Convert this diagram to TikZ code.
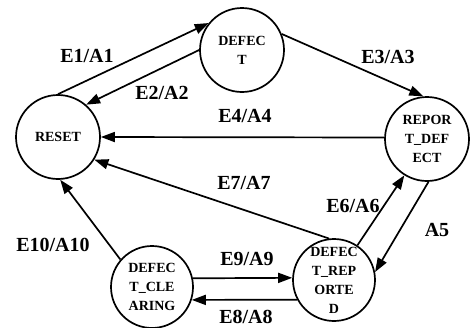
\documentclass[tikz,border=0pt]{standalone}
\usepackage{fontspec}
\setmainfont{Liberation Serif}
\usetikzlibrary{arrows.meta}
\begin{document}
\begin{tikzpicture}[x=1pt,y=-1pt,
  state/.style={circle,draw,line width=1.7pt,minimum size=84pt,inner sep=0pt,
    font=\bfseries\fontsize{14}{19}\selectfont,align=center},
  edge/.style={line width=1.7pt,-{Triangle[length=14pt,width=10pt]}},
  lab/.style={font=\bfseries\fontsize{20}{22}\selectfont,inner sep=0pt}]
\useasboundingbox[fill=white] (0,0) rectangle (473,327);
\node[state] (reset) at (58,137) {RESET};
\node[state] (defect) at (242,50) {DEFEC\\T};
\node[state] (report) at (427,139) {REPOR\\T\_DEF\\ECT};
\node[state,minimum size=82pt] (clearing) at (152,287) {DEFEC\\T\_CLE\\ARING};
\node[state,minimum size=82pt] (reported) at (334,280) {DEFEC\\T\_REP\\ORTE\\D};

\draw[edge] (reset.90) -- (defect.141);
\draw[edge] (defect.180) -- (reset.49);
\draw[edge] (defect.22) -- (report.95);
\draw[edge] (report.178) -- (reset.0);
\draw[edge] (reported.97) -- (reset.-32);
\draw[edge] (clearing.139) -- (reset.-87);
\draw[edge] (clearing.12) -- (reported.177);
\draw[edge] (reported.208) -- (clearing.-18);
\draw[edge] (reported.56) -- (report.238);
\draw[edge] (report.272) -- (reported.11);

\node[lab] (l1) at (87,56) {E1/A1};
\node[lab] (l2) at (162,93) {E2/A2};
\node[lab] (l3) at (388,57) {E3/A3};
\node[lab] (l4) at (245,116) {E4/A4};
\node[lab] (l5) at (437,230) {A5};
\node[lab] (l6) at (353,206) {E6/A6};
\node[lab] (l7) at (244,183) {E7/A7};
\node[lab] (l8) at (246,317) {E8/A8};
\node[lab] (l9) at (247,259) {E9/A9};
\node[lab] (l10) at (53,245) {E10/A10};
\end{tikzpicture}
\end{document}
